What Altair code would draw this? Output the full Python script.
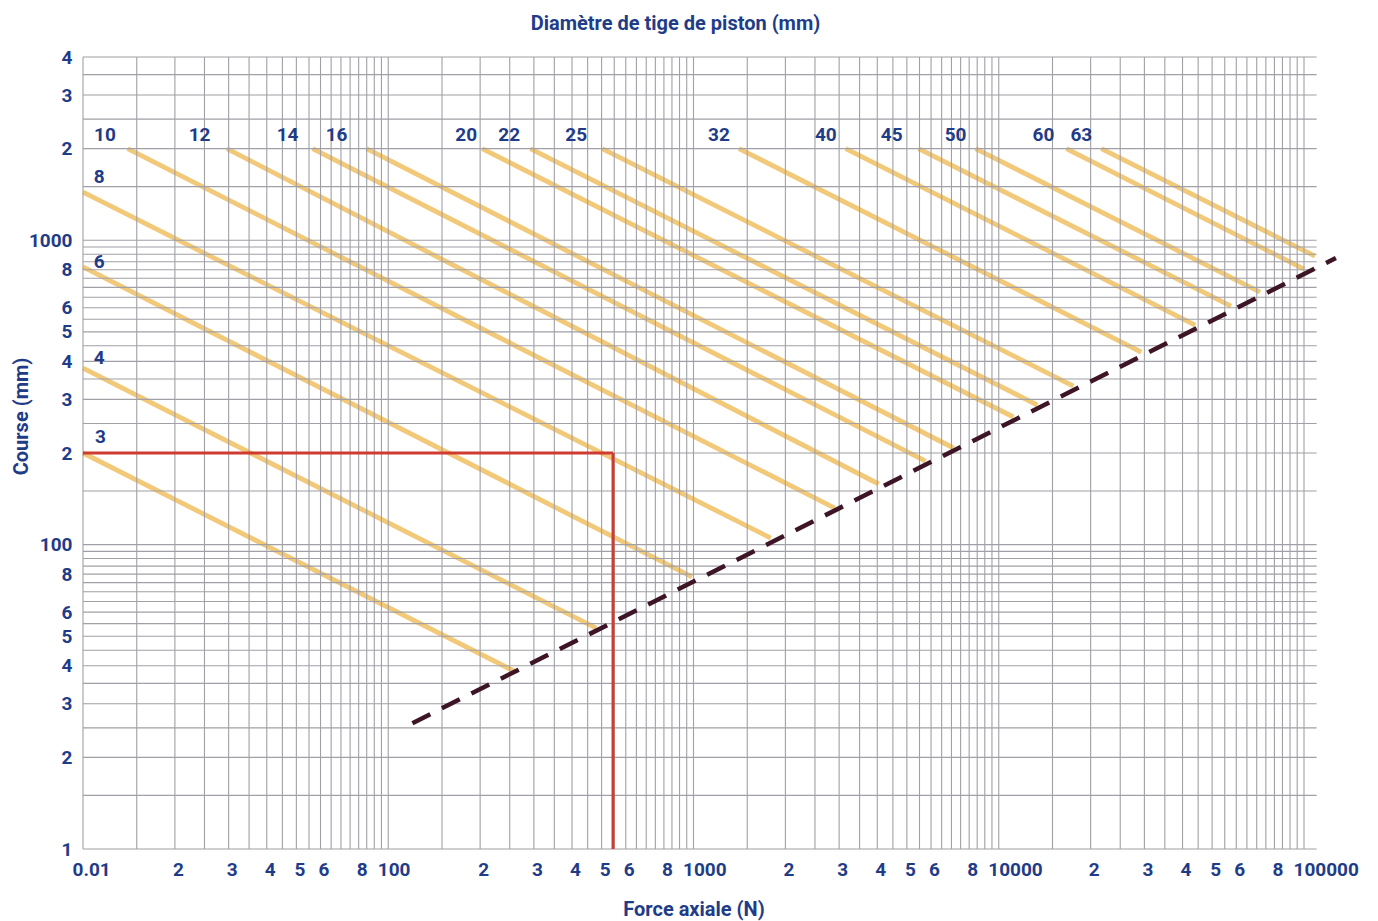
import json
import altair as alt
import pandas as pd

NAVY = "#1f3c88"
FONT = "Roboto"
ORANGE = "#f2c879"
GRID = "#a0a0a6"

# ---------------- data ----------------
# Rod diameters whose line starts on the 2000 mm line
top_d = ["10", "12", "14", "16", "20", "22", "25", "32", "40", "45", "50", "60", "63"]
top_x0 = [14.0, 29.6, 56.5, 84.9, 203, 292, 502, 1409, 3153, 5463, 8395, 16650, 21680]
top_y0 = [2000] * 13
top_x1 = [2902, 4044, 5759, 7112, 11173, 13390, 17560, 29300, 44000, 57700, 71800, 100000, 108600]
top_y1 = [131.9, 158.2, 188.2, 207.7, 262.6, 287.4, 331.9, 429.2, 526.6, 607.8, 675.6, 804.3, 887.3]
top_lab_x = [11.8, 24.1, 46.8, 67.7, 180, 249, 413, 1212, 2713, 4460, 7220, 14005, 18650]
top_lab_y = [2216] * 13

# Rod diameters whose line starts on the left edge (10 N)
left_d = ["3", "4", "6", "8"]
left_x0 = [10, 10, 10, 10]
left_y0 = [200, 380, 817, 1439]
left_x1 = [262.7, 479.8, 988.8, 1792]
left_y1 = [38.1, 53.2, 78.3, 105.1]
left_lab_x = [11.4, 11.3, 11.3, 11.3]
left_lab_y = [226, 410, 848, 1613]

# Limit (dashed) line
limit_x = [120, 127200]
limit_y = [25.9, 874]

# Worked example (red)
ex_force = [10, 545]
ex_stroke = [200, 10]

# Axes
x_tick_vals = [10, 20, 30, 40, 50, 60, 80, 100, 200, 300, 400, 500, 600, 800, 1000,
               2000, 3000, 4000, 5000, 6000, 8000, 10000, 20000, 30000, 40000, 50000,
               60000, 80000, 100000]
x_tick_txt = ["0.01", "2", "3", "4", "5", "6", "8", "100", "2", "3", "4", "5", "6", "8", "1000",
              "2", "3", "4", "5", "6", "8", "10000", "2", "3", "4", "5", "6", "8", "100000"]
y_tick_vals = [10, 20, 30, 40, 50, 60, 80, 100, 200, 300, 400, 500, 600, 800, 1000,
               2000, 3000, 4000]
y_tick_txt = ["1", "2", "3", "4", "5", "6", "8", "100", "2", "3", "4", "5", "6", "8", "1000",
              "2", "3", "4"]

X_MIN, X_MAX, X_GRID_END = 10, 100000, 110000
Y_MIN, Y_MAX = 10, 4000

grid_steps = list(range(10, 100, 5))
grid_x = [m * d // 10 for d in [10, 100, 1000, 10000] for m in grid_steps] + [X_MAX]
grid_y = [m * d // 10 for d in [10, 100, 1000] for m in grid_steps if m * d // 10 <= Y_MAX]

# ---------------- tables ----------------
lines = pd.DataFrame({
    "d": top_d + left_d,
    "x": top_x0 + left_x0,
    "y": top_y0 + left_y0,
    "x2": top_x1 + left_x1,
    "y2": top_y1 + left_y1,
})
labels = pd.DataFrame({
    "d": top_d + left_d,
    "x": top_lab_x + left_lab_x,
    "y": top_lab_y + left_lab_y,
})
vgrid = pd.DataFrame({"x": grid_x, "y": Y_MIN, "y2": Y_MAX})
hgrid = pd.DataFrame({"y": grid_y, "x": X_MIN, "x2": X_GRID_END})
limit = pd.DataFrame({"x": [limit_x[0]], "x2": [limit_x[1]], "y": [limit_y[0]], "y2": [limit_y[1]]})
red = pd.DataFrame({
    "x": [ex_force[0], ex_force[1]],
    "x2": [ex_force[1], ex_force[1]],
    "y": [ex_stroke[0], ex_stroke[0]],
    "y2": [ex_stroke[0], ex_stroke[1]],
})

XS = alt.Scale(type="log", domain=[X_MIN, X_MAX], nice=False)
YS = alt.Scale(type="log", domain=[Y_MIN, Y_MAX], nice=False)


def label_expr(vals, txt):
    return f"{json.dumps(txt)}[indexof({json.dumps(vals)}, datum.value)]"


x_dec_test = " || ".join(f"datum.value == {v}" for v in [10, 100, 1000, 10000, 100000])

LABEL_SIZE = 19
TITLE_SIZE = 20

x_axis = alt.Axis(
    values=x_tick_vals,
    labelExpr=label_expr(x_tick_vals, x_tick_txt),
    grid=False, ticks=False, domain=False,
    labelFont=FONT, labelFontWeight="bold", labelFontSize=LABEL_SIZE, labelColor=NAVY,
    labelPadding=11, labelOverlap=False, labelFlush=False,
    labelAlign={"condition": {"test": x_dec_test, "value": "left"}, "value": "center"},
    labelOffset={"condition": {"test": x_dec_test, "value": -11}, "value": 3},
    title="Force axiale (N)", titleFont=FONT, titleFontWeight="bold", titleFontSize=TITLE_SIZE,
    titleColor=NAVY, titleBaseline="alphabetic", titleY=66, titleAnchor="middle",
)
y_axis = alt.Axis(
    values=y_tick_vals,
    labelExpr=label_expr(y_tick_vals, y_tick_txt),
    grid=False, ticks=False, domain=False,
    labelFont=FONT, labelFontWeight="bold", labelFontSize=LABEL_SIZE, labelColor=NAVY,
    labelPadding=11, labelOverlap=False, labelFlush=False,
    title="Course (mm)", titleFont=FONT, titleFontWeight="bold", titleFontSize=TITLE_SIZE,
    titleColor=NAVY, titleX=-62, titleY=359, titleAngle=270, titleAlign="center",
    titleBaseline="middle",
)


def enc_x(field="x"):
    return alt.X(f"{field}:Q", scale=XS, axis=x_axis)


def enc_y(field="y"):
    return alt.Y(f"{field}:Q", scale=YS, axis=y_axis)


orange = alt.Chart(lines).mark_rule(color=ORANGE, strokeWidth=4.8).encode(
    x=enc_x(), y=enc_y(), x2="x2:Q", y2="y2:Q",
)
vg = alt.Chart(vgrid).mark_rule(color=GRID, strokeWidth=1.1).encode(
    x=enc_x(), y=enc_y(), y2="y2:Q",
)
hg = alt.Chart(hgrid).mark_rule(color=GRID, strokeWidth=1.1).encode(
    y=enc_y(), x=enc_x(), x2="x2:Q",
)
dashed = alt.Chart(limit).mark_rule(color="#3d1526", strokeWidth=4.5, strokeDash=[20, 13]).encode(
    x=enc_x(), x2="x2:Q", y=enc_y(), y2="y2:Q",
)
redl = alt.Chart(red).mark_rule(color="#cf3b30", strokeWidth=3).encode(
    x=enc_x(), x2="x2:Q", y=enc_y(), y2="y2:Q",
)
txt = alt.Chart(labels).mark_text(
    font=FONT, fontWeight="bold", fontSize=LABEL_SIZE, color=NAVY, align="center", baseline="middle"
).encode(
    x=enc_x(), y=enc_y(), text="d:N",
)

chart = alt.layer(orange, vg, hg, dashed, redl, txt).properties(
    width=1221, height=792,
    autosize=alt.AutoSizeParams(type="none"),
    padding={"left": 75, "top": 49, "right": 58, "bottom": 75},
    title=alt.TitleParams(
        "Diamètre de tige de piston (mm)", font=FONT, fontSize=TITLE_SIZE, fontWeight="bold",
        color=NAVY, anchor="middle", frame="group", dx=-18, dy=4, offset=2, baseline="alphabetic",
    ),
    background="white",
).configure_view(stroke=None)

chart.save("out.html", embed_options={"renderer": "svg", "actions": False})
